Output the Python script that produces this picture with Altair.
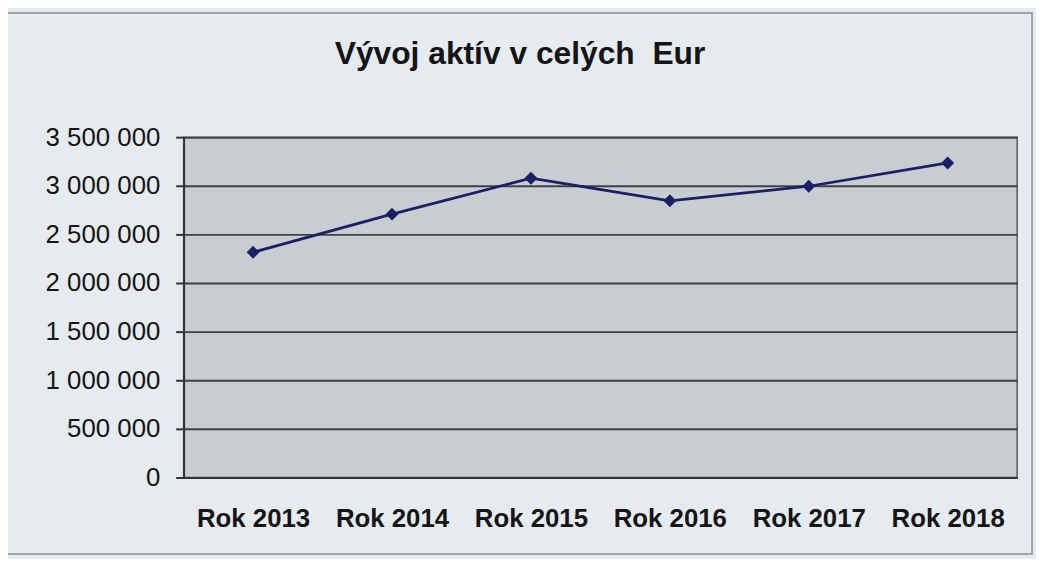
import altair as alt
import pandas as pd

TITLE = "Vývoj aktív v celých\u00a0 Eur"
years = ["Rok 2013", "Rok 2014", "Rok 2015", "Rok 2016", "Rok 2017", "Rok 2018"]
values = [2316000, 2708000, 3078000, 2845000, 2995000, 3235000]
y_ticks = [0, 500000, 1000000, 1500000, 2000000, 2500000, 3000000, 3500000]

NAVY = "#1c1f66"
FONT = "Liberation Sans"

df = pd.DataFrame({"rok": years, "aktiva": values})

line = alt.Chart(df).mark_line(
    color=NAVY,
    strokeWidth=2.8,
    point=alt.OverlayMarkDef(shape="diamond", size=170, filled=True, color=NAVY, opacity=1),
).encode(
    x=alt.X(
        "rok:N",
        sort=years,
        scale=alt.Scale(padding=0.5),
        axis=alt.Axis(
            title=None,
            labelAngle=0,
            ticks=False,
            grid=False,
            domain=True,
            domainColor="#30343a",
            domainWidth=2,
            labelFont=FONT,
            labelFontWeight="bold",
            labelFontSize=26,
            labelColor="#151515",
            labelPadding=28,
        ),
    ),
    y=alt.Y(
        "aktiva:Q",
        scale=alt.Scale(domain=[0, 3500000], nice=False, zero=True),
        axis=alt.Axis(
            title=None,
            values=y_ticks,
            grid=True,
            gridColor="#3d4248",
            gridWidth=2,
            domain=True,
            domainColor="#30343a",
            domainWidth=2,
            ticks=True,
            tickSize=8,
            tickColor="#30343a",
            tickWidth=2,
            labelFont=FONT,
            labelFontSize=26,
            labelColor="#151515",
            labelPadding=16,
            labelExpr="replace(replace(format(datum.value, ','), ',', ' '), ',', ' ')",
        ),
    ),
)

frame = alt.Chart(pd.DataFrame({"f": [0]})).mark_rect(
    filled=False, stroke="#8a9097", strokeWidth=1.5
).encode(
    x=alt.value(-178), x2=alt.value(855), y=alt.value(-125), y2=alt.value(420)
)

title = alt.Chart(pd.DataFrame({"t": [TITLE]})).mark_text(
    font=FONT, fontWeight="bold", fontSize=32, color="#151515",
    align="center", baseline="alphabetic",
).encode(
    text="t:N", x=alt.value(339), y=alt.value(-74)
)

chart = alt.layer(frame, line, title).properties(
    width=840,
    height=343,
    autosize=alt.AutoSizeParams(type="none"),
    padding={"left": 177, "top": 128, "right": 19, "bottom": 80},
    background="#e6ebf0",
).configure_view(fill="#c8cdd2", stroke="#555a60", strokeWidth=1.5)

chart.save("out.html", embed_options={"renderer": "svg", "actions": False})
